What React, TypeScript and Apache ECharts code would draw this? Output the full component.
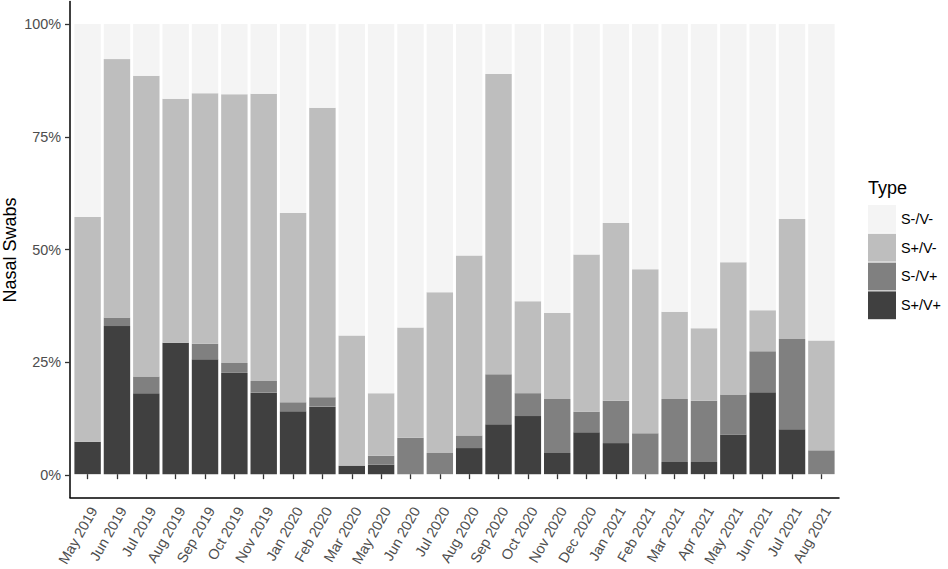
import React, { useEffect, useRef } from "react";
import * as echarts from "echarts";

const categories = [
  "May 2019", "Jun 2019", "Jul 2019", "Aug 2019", "Sep 2019", "Oct 2019", "Nov 2019",
  "Jan 2020", "Feb 2020", "Mar 2020", "May 2020", "Jun 2020", "Jul 2020", "Aug 2020",
  "Sep 2020", "Oct 2020", "Nov 2020", "Dec 2020", "Jan 2021", "Feb 2021", "Mar 2021",
  "Apr 2021", "May 2021", "Jun 2021", "Jul 2021", "Aug 2021",
];

// percentages, stacked bottom to top: S+/V+, S-/V+, S+/V-, S-/V-
const sPosVPos = [7.2, 32.9, 18.0, 29.2, 25.5, 22.5, 18.1, 14.0, 15.0, 1.9, 2.1, 0, 0, 5.8, 11.1, 12.9, 4.7, 9.3, 6.9, 0, 2.7, 2.7, 8.8, 18.2, 10.0, 0];
const sNegVPos = [0, 1.9, 3.7, 0, 3.5, 2.2, 2.6, 2.0, 2.1, 0, 2.0, 8.1, 4.7, 2.8, 11.1, 5.1, 12.0, 4.6, 9.4, 9.1, 14.0, 13.6, 8.9, 9.1, 20.0, 5.3];
const sPosVNeg = [49.9, 57.4, 66.8, 54.2, 55.6, 59.7, 63.8, 42.0, 64.3, 28.9, 13.9, 24.5, 35.7, 40.0, 66.7, 20.4, 19.1, 34.9, 39.5, 36.4, 19.4, 16.1, 29.4, 9.1, 26.7, 24.4];
const sNegVNeg = [42.9, 7.8, 11.5, 16.6, 15.4, 15.6, 15.5, 42.0, 18.6, 69.2, 82.0, 67.4, 59.6, 51.4, 11.1, 61.6, 64.2, 51.2, 44.2, 54.5, 63.9, 67.6, 52.9, 63.6, 43.3, 70.3];

const yTicks = [0, 25, 50, 75, 100];
const legendOrder = ["S-/V-", "S+/V-", "S-/V+", "S+/V+"];

const FONT = "'Liberation Sans', Arial, Helvetica, sans-serif";

// panel: x 70..839, y 1.5..497.5; discrete expansion 0.6 band
const PANEL_L = 70;
const PANEL_R = 839;
const BAND = (PANEL_R - PANEL_L) / (categories.length + 0.2);
const TOP = 1.5;
const BOTTOM = 569 - 497.5;

export default function App() {
  const ref = useRef<HTMLDivElement>(null);

  useEffect(() => {
    if (!ref.current) return;
    const chart = echarts.init(ref.current, undefined, { renderer: "svg" });
    const mk = (name: string, vals: number[], color: string) => ({
      name,
      type: "bar",
      stack: "total",
      xAxisIndex: 0,
      yAxisIndex: 0,
      barWidth: "90%",
      itemStyle: { color },
      emphasis: { disabled: true },
      data: vals,
    });
    chart.setOption({
      animation: false,
      textStyle: { fontFamily: FONT },
      grid: [
        {
          left: PANEL_L + 0.1 * BAND,
          right: 948 - (PANEL_R - 0.1 * BAND),
          top: TOP,
          bottom: BOTTOM,
          containLabel: false,
        },
        { left: PANEL_L, right: 948 - PANEL_R, top: TOP, bottom: BOTTOM, containLabel: false },
      ],
      xAxis: [
        {
          type: "category",
          gridIndex: 0,
          data: categories,
          boundaryGap: true,
          axisLine: { show: false },
          axisTick: { show: true, alignWithLabel: true, length: 5, lineStyle: { color: "#333", width: 1.3 } },
          axisLabel: {
            interval: 0,
            rotate: 60,
            align: "right",
            verticalAlign: "top",
            margin: 8,
            fontSize: 14.4,
            color: "#4D4D4D",
            fontFamily: FONT,
          },
          splitLine: { show: false },
        },
        {
          type: "value",
          gridIndex: 1,
          min: 0,
          max: 1,
          axisLine: { show: true, onZero: false, lineStyle: { color: "#000", width: 1.5 } },
          axisTick: { show: false },
          axisLabel: { show: false },
          splitLine: { show: false },
        },
      ],
      yAxis: [
        {
          type: "value",
          gridIndex: 0,
          min: -5,
          max: 105,
          show: false,
          splitLine: { show: false },
        },
        {
          type: "value",
          gridIndex: 1,
          min: -5,
          max: 105,
          splitLine: { show: false },
          axisLine: { show: true, onZero: false, lineStyle: { color: "#000", width: 1.5 } },
          axisTick: { show: true, length: 5, customValues: yTicks, lineStyle: { color: "#333", width: 1.3 } },
          axisLabel: {
            customValues: yTicks,
            margin: 9,
            fontSize: 14.4,
            color: "#4D4D4D",
            fontFamily: FONT,
            formatter: (v: number) => `${v}%`,
          },
        },
      ],
      legend: {
        orient: "vertical",
        left: 868,
        top: 205,
        padding: 0,
        itemWidth: 28,
        itemHeight: 27.8,
        itemGap: 1,
        icon: "rect",
        selectedMode: false,
        data: legendOrder,
        textStyle: { fontSize: 14.4, color: "#000", fontFamily: FONT },
      },
      graphic: [
        {
          type: "text",
          x: 868,
          y: 179,
          style: { text: "Type", fontSize: 18, fill: "#000", fontFamily: FONT, verticalAlign: "top", align: "left" },
        },
        {
          type: "text",
          x: 10,
          y: 250,
          rotation: Math.PI / 2,
          style: { text: "Nasal Swabs", fontSize: 18, fill: "#000", fontFamily: FONT, verticalAlign: "middle", align: "center" },
        },
      ],
      series: [
        mk("S+/V+", sPosVPos, "#404040"),
        mk("S-/V+", sNegVPos, "#808080"),
        mk("S+/V-", sPosVNeg, "#BEBEBE"),
        mk("S-/V-", sNegVNeg, "#F4F4F4"),
      ],
    });
    return () => chart.dispose();
  }, []);

  return (
    <div
      ref={ref}
      style={{ position: "fixed", left: 0, top: 0, width: 948, height: 569, background: "#fff" }}
    />
  );
}
